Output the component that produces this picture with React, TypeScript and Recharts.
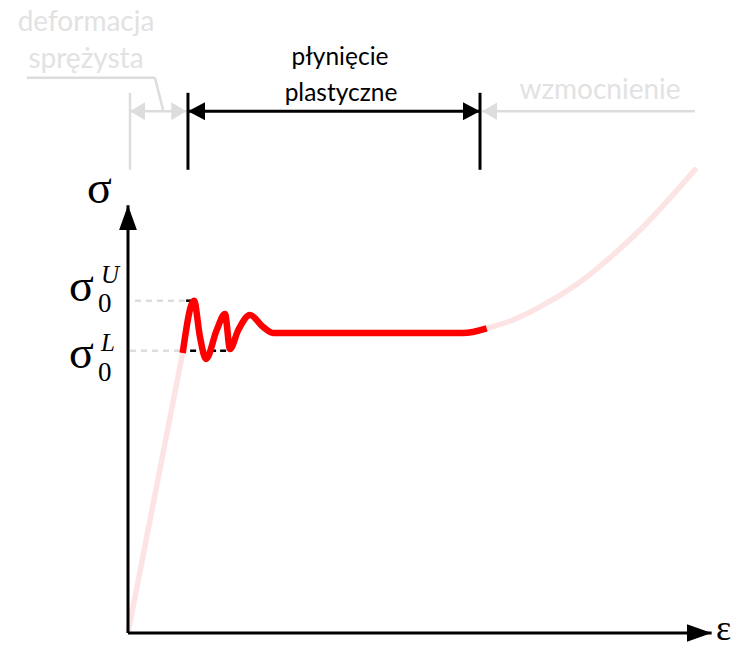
import { ComposedChart, Line, XAxis, YAxis, ReferenceLine } from 'recharts'

// strain (x) and stress (y), the stress arrow ends at 100
const elasticStrain = [0, 9.5]
const elasticStress = [0, 65.5]

const yieldStrain = [9.51, 11.48, 12.52, 13.57, 15.43, 16.87, 17.74, 19.18, 21.22, 23.48, 25.22, 58.26, 62.38]
const yieldStress = [65.47, 77.69, 69.21, 64.06, 70.84, 74.58, 66.4, 70.84, 74.35, 71.55, 70.14, 70.14, 71.24]

const hardStrain = [62.38, 66.96, 72.87, 78.61, 84.35, 90.26, 96.0, 98.61]
const hardStress = [71.24, 73.18, 77.16, 82.07, 88.38, 95.86, 104.3, 108.3]

// lower / upper yield stress
const sigmaTicks = [66.0, 77.7]
const sigmaSup = ['L', 'U']

// zone borders on the strain axis
const elasticStart = 0.35
const yieldStart = 10.43
const yieldEnd = 61.22
const hardEnd = 98.61
const strainAxisEnd = 101.5

const toPoints = (xs: number[], ys: number[]) => xs.map((x, i) => ({ x, y: ys[i] }))
const elastic = toPoints(elasticStrain, elasticStress)
const yielding = toPoints(yieldStrain, yieldStress)
const hardening = toPoints(hardStrain, hardStress)

const RED = '#ff0000'
const PINK = '#fde4e4'
const GREY = '#dddddd'
const LIGHT = '#e2e2e2'
const SANS = 'Lato, "Noto Sans", sans-serif'
const SERIF = '"Liberation Serif", "DejaVu Serif", serif'

// band above the curve where the zone markers sit
const BAR_TOP = 126.3
const BAR_BOTTOM = 108.3
const BAR_Y = 122.0

const arrowLine = (start?: string, end?: string) => (p: any) => (
  <line
    x1={p.x1}
    y1={p.y1}
    x2={p.x2}
    y2={p.y2}
    stroke={p.stroke}
    strokeWidth={p.strokeWidth}
    markerStart={start ? `url(#${start})` : undefined}
    markerEnd={end ? `url(#${end})` : undefined}
  />
)

function SigmaTick({ y, index }: any) {
  const low = index === 0
  const base = low ? y + 17 : y
  return (
    <text x={69} y={base} fontFamily={SERIF} fill="#000" fontSize={46}>
      σ
      <tspan x={98} y={base + (low ? 13 : 11)} fontSize={27}>0</tspan>
      <tspan x={101} y={low ? base - 17 : base - 18} fontSize={25} fontStyle="italic">
        {sigmaSup[index]}
      </tspan>
    </text>
  )
}

export default function App() {
  return (
    <div style={{ position: 'absolute', left: 0, top: 0, width: 737, height: 649, background: '#fff' }}>
      <ComposedChart width={737} height={649} margin={{ top: 0, right: 34, bottom: 16, left: 0 }}>
        <defs>
          <marker id="axisHead" viewBox="0 0 25 18" markerWidth={25} markerHeight={18} refX={25} refY={9} orient="auto" markerUnits="userSpaceOnUse">
            <path d="M0,0 L25,9 L0,18 z" fill="#000" />
          </marker>
          <marker id="blackHead" viewBox="0 0 17 18" markerWidth={17} markerHeight={18} refX={17} refY={9} orient="auto-start-reverse" markerUnits="userSpaceOnUse">
            <path d="M0,0 L17,9 L0,18 z" fill="#000" />
          </marker>
          <marker id="greyHead" viewBox="0 0 15 18" markerWidth={15} markerHeight={18} refX={15} refY={9} orient="auto-start-reverse" markerUnits="userSpaceOnUse">
            <path d="M0,0 L15,9 L0,18 z" fill={GREY} />
          </marker>
        </defs>

        <XAxis type="number" dataKey="x" domain={[0, 100]} hide />
        <YAxis
          type="number"
          dataKey="y"
          domain={[0, 148]}
          width={128}
          ticks={sigmaTicks}
          interval={0}
          axisLine={false}
          tickLine={false}
          tick={<SigmaTick />}
        />

        {/* guides to the yield stresses */}
        <ReferenceLine segment={[{ x: 1.2, y: sigmaTicks[1] }, { x: 10.1, y: sigmaTicks[1] }]} stroke={GREY} strokeWidth={2.5} strokeDasharray="6 5" />
        <ReferenceLine segment={[{ x: 10.1, y: sigmaTicks[1] }, { x: 11.3, y: sigmaTicks[1] }]} stroke="#000" strokeWidth={2.5} />
        <ReferenceLine segment={[{ x: 0.35, y: sigmaTicks[0] }, { x: 9.6, y: sigmaTicks[0] }]} stroke={GREY} strokeWidth={2.5} strokeDasharray="6 5" />
        <ReferenceLine segment={[{ x: 10.8, y: sigmaTicks[0] }, { x: 18.1, y: sigmaTicks[0] }]} stroke="#000" strokeWidth={2.5} strokeDasharray="6 4" />

        <Line data={elastic} dataKey="y" type="linear" stroke={PINK} strokeWidth={5.5} dot={false} activeDot={false} isAnimationActive={false} />
        <Line data={hardening} dataKey="y" type="monotone" stroke={PINK} strokeWidth={5.5} strokeLinecap="round" dot={false} activeDot={false} isAnimationActive={false} />
        <Line data={yielding} dataKey="y" type="monotone" stroke={RED} strokeWidth={6.5} dot={false} activeDot={false} isAnimationActive={false} />

        {/* axes */}
        <ReferenceLine segment={[{ x: 0, y: 0 }, { x: 0, y: 100 }]} stroke="#000" strokeWidth={3} shape={arrowLine(undefined, 'axisHead')} />
        <ReferenceLine segment={[{ x: 0, y: 0 }, { x: strainAxisEnd, y: 0 }]} stroke="#000" strokeWidth={3} ifOverflow="visible" shape={arrowLine(undefined, 'axisHead')} />

        {/* zone markers */}
        <ReferenceLine segment={[{ x: elasticStart, y: BAR_BOTTOM }, { x: elasticStart, y: BAR_TOP }]} stroke={GREY} strokeWidth={2.5} />
        <ReferenceLine segment={[{ x: elasticStart, y: BAR_Y }, { x: yieldStart - 0.3, y: BAR_Y }]} stroke={GREY} strokeWidth={2.5} shape={arrowLine('greyHead', 'greyHead')} />
        <ReferenceLine segment={[{ x: yieldEnd + 0.4, y: BAR_Y }, { x: hardEnd, y: BAR_Y }]} stroke={GREY} strokeWidth={2.5} shape={arrowLine('greyHead')} />
        <ReferenceLine segment={[{ x: yieldStart, y: BAR_BOTTOM }, { x: yieldStart, y: BAR_TOP }]} stroke="#000" strokeWidth={3} />
        <ReferenceLine segment={[{ x: yieldEnd, y: BAR_BOTTOM }, { x: yieldEnd, y: BAR_TOP }]} stroke="#000" strokeWidth={3} />
        <ReferenceLine segment={[{ x: yieldStart, y: BAR_Y }, { x: yieldEnd, y: BAR_Y }]} stroke="#000" strokeWidth={3} shape={arrowLine('blackHead', 'blackHead')} />
        <ReferenceLine segment={[{ x: -17.6, y: 129.8 }, { x: 4.7, y: 129.8 }]} stroke={GREY} strokeWidth={2.5} ifOverflow="visible" />
        <ReferenceLine segment={[{ x: 4.7, y: 129.8 }, { x: 6.1, y: 122.3 }]} stroke={GREY} strokeWidth={2.5} ifOverflow="visible" />

        <text x={86} y={31} textAnchor="middle" fontFamily={SANS} fontSize={28} fill={LIGHT}>deformacja</text>
        <text x={86} y={68} textAnchor="middle" fontFamily={SANS} fontSize={28} fill={LIGHT}>sprężysta</text>
        <text x={340} y={65} textAnchor="middle" fontFamily={SANS} fontSize={24.5} fill="#000">płynięcie</text>
        <text x={341} y={101} textAnchor="middle" fontFamily={SANS} fontSize={24.5} fill="#000">plastyczne</text>
        <text x={600} y={99} textAnchor="middle" fontFamily={SANS} fontSize={28} fill={LIGHT}>wzmocnienie</text>

        <text x={87} y={203} fontFamily={SERIF} fontSize={46} fill="#000">σ</text>
        <text x={716} y={640} fontFamily={SERIF} fontSize={36} fill="#000">ε</text>
      </ComposedChart>
    </div>
  )
}
